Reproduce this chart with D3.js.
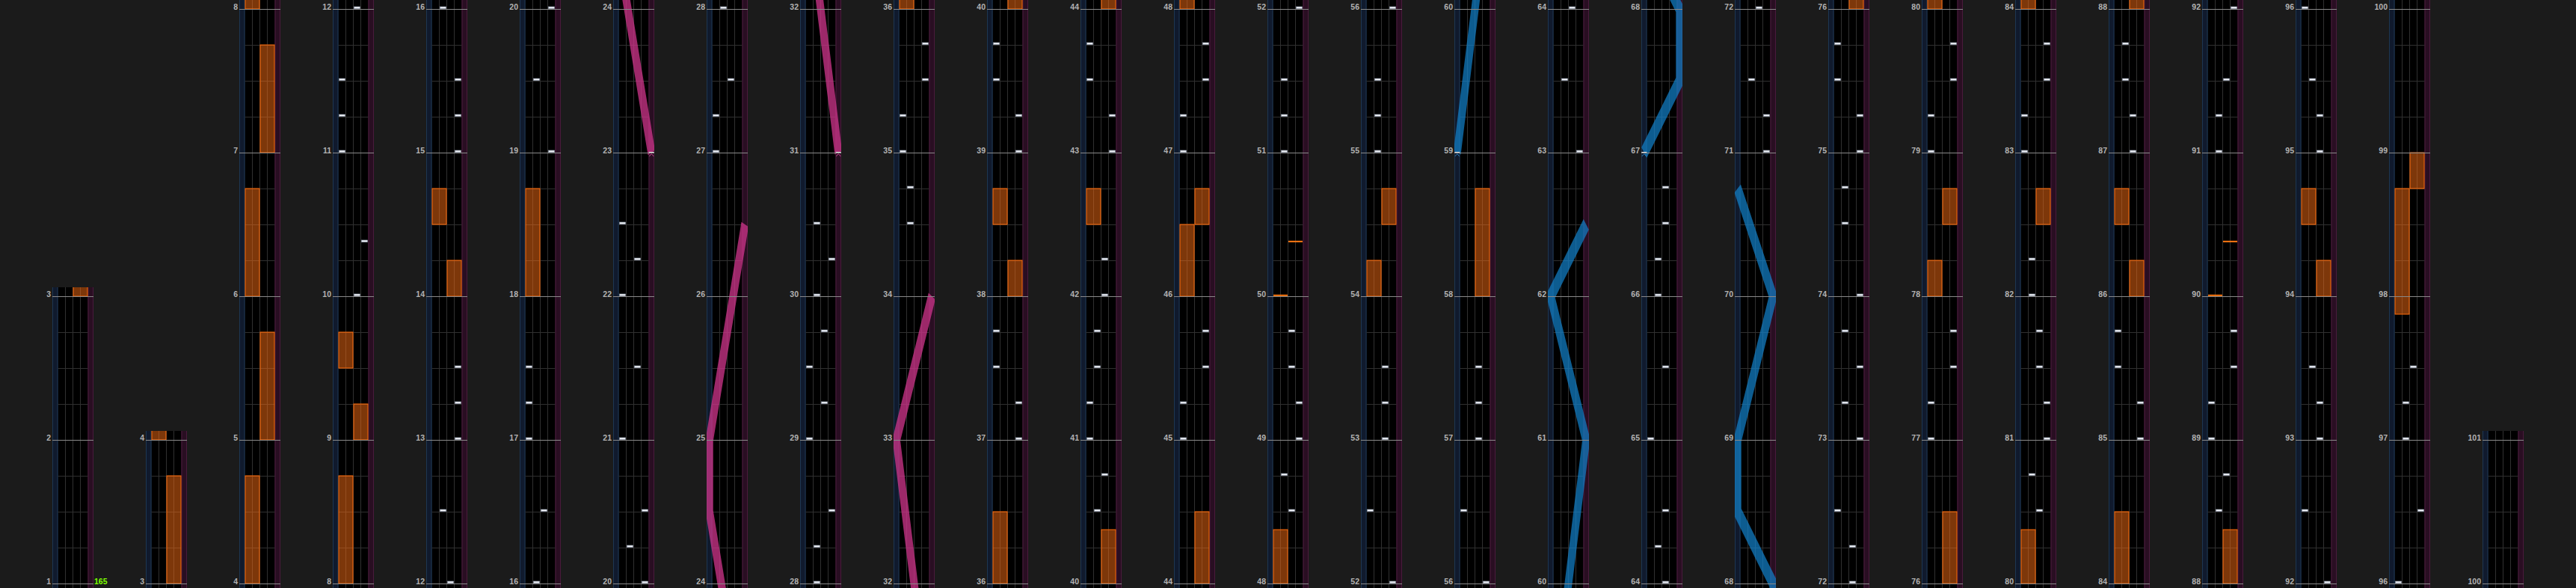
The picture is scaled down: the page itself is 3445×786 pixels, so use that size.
<!DOCTYPE html>
<html><head><meta charset="utf-8">
<script src="https://cdn.jsdelivr.net/npm/d3@7"></script>
<style>html,body{margin:0;padding:0;background:#1b1b1b;overflow:hidden}</style>
</head><body>
<svg id="chart" width="3445" height="786"></svg>
<script>
// ---------------- DATA ----------------
const bpmLabel = "165";
const columnFirstMeasures = [1,3,4,8,12,16,20,24,28,32,36,40,44,48,52,56,60,64,68,72,76,80,84,88,92,96,100];
const columnMeasureCounts = [2,1,4,4,4,4,4,4,4,4,4,4,4,4,4,4,4,4,4,4,4,4,4,4,4,4,1];

// BT chips: [measure, beat, lane 1-4]
const btChips = [
  [10,0,3],[10,1.5,4],
  [11,0,1],[11,1,1],[11,2,1],
  [12,0,3],[12,2,2],
  [13,0,4],[13,1,4],[13,2,4],
  [15,0,4],[15,1,4],[15,2,4],
  [16,0,2],[16,2,3],
  [17,0,1],[17,1,1],[17,2,1],
  [19,0,4],[19,2,2],
  [20,0,4],[20,1,2],[20,2,4],
  [21,0,1],[21,2,3],
  [22,0,1],[22,1,3],[22,2,1],
  [27,0,1],[27,1,1],[27,2,3],
  [28,0,2],[28,1,2],[28,2,4],
  [29,0,1],[29,1,3],[29,2,1],[29,3,3],
  [30,0,2],[30,1,4],[30,2,2],
  [34,2,2],[34,3,2],
  [35,0,1],[35,1,1],[35,2,4],[35,3,4],
  [37,0,4],[37,1,4],[37,2,1],[37,3,1],
  [39,0,4],[39,1,4],[39,2,1],[39,3,1],
  [40,2,2],[40,3,3],
  [41,0,1],[41,1,1],[41,2,2],[41,3,2],
  [42,0,3],[42,1,3],
  [43,0,4],[43,1,4],[43,2,1],[43,3,1],
  [45,0,1],[45,1,1],[45,2,4],[45,3,4],
  [47,0,1],[47,1,1],[47,2,4],[47,3,4],
  [48,2,3],[48,3,2],
  [49,0,4],[49,1,4],[49,2,3],[49,3,3],
  [51,0,2],[51,1,2],[51,2,2],
  [52,0,4],[52,2,1],
  [53,0,3],[53,1,3],[53,2,3],
  [55,0,2],[55,1,2],[55,2,2],
  [56,0,4],[56,2,1],
  [57,0,3],[57,1,3],[57,2,3],
  [63,0,4],[63,2,2],
  [64,0,3],[64,1,2],[64,2,3],
  [65,0,1],[65,2,3],
  [66,0,2],[66,1,2],[66,2,3],[66,3,3],
  [71,0,4],[71,1,4],[71,2,2],
  [72,0,3],[72,1,3],[72,2,1],
  [73,0,4],[73,1,2],[73,2,4],[73,3,2],
  [74,0,4],[74,2,2],[74,3,2],
  [75,0,4],[75,1,4],[75,2,1],[75,3,1],
  [77,0,1],[77,1,1],[77,2,4],[77,3,4],
  [79,0,1],[79,1,1],[79,2,4],[79,3,4],
  [80,2,3],[80,3,2],
  [81,0,4],[81,1,4],[81,2,3],[81,3,3],
  [82,0,2],[82,1,2],
  [83,0,1],[83,1,1],[83,2,4],[83,3,4],
  [85,0,4],[85,1,4],[85,2,1],[85,3,1],
  [87,0,3],[87,1,3],[87,2,2],[87,3,2],
  [88,2,2],[88,3,3],
  [89,0,1],[89,1,1],[89,2,4],[89,3,4],
  [91,0,2],[91,1,2],[91,2,3],
  [92,0,4],[92,2,1],
  [93,0,3],[93,1,3],[93,2,2],
  [95,0,3],[95,1,3],[95,2,2],
  [96,0,1],[96,2,4],
  [97,0,2],[97,1,2],[97,2,3]
];

// FX holds: [startMeasure, startBeat, endMeasure, endBeat, side]
const fxHolds = [
  [3,0,3,3,"R"],[4,0,4,3,"L"],[5,0,5,3,"R"],[6,0,6,3,"L"],[7,0,7,3,"R"],[8,0,8,3,"L"],
  [9,0,9,1,"R"],[9,2,9,3,"L"],
  [14,0,14,1,"R"],[14,2,14,3,"L"],
  [18,0,18,3,"L"],
  [36,0,36,2,"L"],
  [38,0,38,1,"R"],[38,2,38,3,"L"],
  [40,0,40,1.5,"R"],
  [42,2,42,3,"L"],
  [44,0,44,2,"R"],
  [46,0,46,2,"L"],[46,2,46,3,"R"],
  [48,0,48,1.5,"L"],
  [54,0,54,1,"L"],[54,2,54,3,"R"],
  [58,0,58,3,"R"],
  [76,0,76,2,"R"],
  [78,0,78,1,"L"],[78,2,78,3,"R"],
  [80,0,80,1.5,"L"],
  [82,2,82,3,"R"],
  [84,0,84,2,"L"],
  [86,0,86,1,"R"],[86,2,86,3,"L"],
  [88,0,88,1.5,"R"],
  [94,0,94,1,"R"],[94,2,94,3,"L"],
  [97,3.5,98,3,"L"],[98,3,99,0,"R"]
];

// FX chips: [measure, beat, side]
const fxChips = [[50,0,"L"],[50,1.5,"R"],[90,0,"L"],[90,1.5,"R"]];

// Lasers: points [measure, beat, position 0..1]
const lasersLeft = [
  [[59,0,0],[61,0,1],[62,0,0],[62,2,1]],
  [[67,0,0],[67,2,1],[68,0,1],[68,2,0],[69,0,0],[70,0,1],[70,3,0]]
];
const lasersRight = [
  [[23,0,1],[24,2,0],[25,0,0],[26,2,1]],
  [[31,0,1],[33,0,0],[34,0,1]]
];

// ---------------- RENDER ----------------
const svg = d3.select("#chart");
svg.append("rect").attr("width",3445).attr("height",786).attr("fill","#1b1b1b");
const defs = svg.append("defs");

const beatOf = (m,b) => (m-1)*4 + b;
const colX = d3.scaleLinear().domain([0, columnFirstMeasures.length-1]).range([70, 3320]);
const laneX = d3.scaleBand().domain([1,2,3,4]).range([7.5, 47.5]);
const fxX = d3.scaleBand().domain(["L","R"]).range([7.5, 47.5]);
const laserX = d3.scaleLinear().domain([0,1]).range([3.75, 51.25]);
const COLW = 55, BASE = 780, MH = 192, H = 786;

const laserSets = [
  {lasers: lasersLeft, color: "rgba(18,128,200,0.72)", mark: "#2c7fbf"},
  {lasers: lasersRight, color: "rgba(205,52,138,0.76)", mark: "#c2478f"}
];

columnFirstMeasures.forEach((first, i) => {
  const count = columnMeasureCounts[i];
  const t0 = beatOf(first, 0), t1 = t0 + count*4;
  const y = d3.scaleLinear().domain([t0, t1]).range([BASE, BASE - MH*count]);
  const top = y(t1) - 12;
  const x0 = colX(i);
  const clipId = "clip" + i;
  defs.append("clipPath").attr("id", clipId)
    .append("rect").attr("x",0).attr("y",top).attr("width",COLW).attr("height",H-top);

  const g = svg.append("g").attr("transform", `translate(${x0},0)`);
  const body = g.append("g").attr("clip-path", `url(#${clipId})`);

  // lane backgrounds
  body.append("rect").attr("x",7.5).attr("y",top).attr("width",40).attr("height",H-top).attr("fill","#000");
  body.append("rect").attr("x",0).attr("y",top).attr("width",7.5).attr("height",H-top).attr("fill","#101a2d");
  body.append("rect").attr("x",47.5).attr("y",top).attr("width",7.5).attr("height",H-top).attr("fill","#290e22");
  [0.5, 7].forEach(xx => body.append("line").attr("x1",xx).attr("x2",xx).attr("y1",top).attr("y2",H)
      .attr("stroke","#1d3652").attr("stroke-width",1));
  [48, 54.5].forEach(xx => body.append("line").attr("x1",xx).attr("x2",xx).attr("y1",top).attr("y2",H)
      .attr("stroke","#4a1a3c").attr("stroke-width",1));

  // beat grid
  const beats = d3.range(Math.floor(y.invert(H)), Math.ceil(y.invert(top)) + 1);
  body.selectAll("line.beat").data(beats.filter(b => b % 4 !== 0)).join("line")
    .attr("class","beat").attr("x1",7.5).attr("x2",47.5)
    .attr("y1", d => Math.round(y(d)) + 0.5).attr("y2", d => Math.round(y(d)) + 0.5)
    .attr("stroke","#303030").attr("stroke-width",1);
  // lane dividers
  [2,3,4].forEach(l => body.append("line").attr("x1",laneX(l)).attr("x2",laneX(l))
      .attr("y1",top).attr("y2",H).attr("stroke","#303030").attr("stroke-width",1));

  // FX holds
  const holds = fxHolds.filter(d => beatOf(d[2],d[3]) > y.invert(H) && beatOf(d[0],d[1]) < y.invert(top));
  body.selectAll("rect.fx").data(holds).join("rect").attr("class","fx")
    .attr("x", d => fxX(d[4]) + 0.5)
    .attr("width", fxX.bandwidth() - 1)
    .attr("y", d => y(beatOf(d[2],d[3])))
    .attr("height", d => y(beatOf(d[0],d[1])) - y(beatOf(d[2],d[3])))
    .attr("fill","rgba(240,105,20,0.52)")
    .attr("stroke","#ff6c0a").attr("stroke-width",1);

  // lasers
  laserSets.forEach(set => {
    set.lasers.forEach(pts => {
      const lg = body.append("g").attr("transform","scale(1,2)");
      lg.append("path")
        .attr("d", d3.line().x(p => laserX(p[2])).y(p => y(beatOf(p[0],p[1]))/2)(pts))
        .attr("fill","none").attr("stroke",set.color).attr("stroke-width",10)
        .attr("stroke-linejoin","miter").attr("stroke-linecap","butt");
    });
  });

  // measure lines
  const mlines = d3.range(first, first + count + 1);
  body.selectAll("line.meas").data(mlines).join("line").attr("class","meas")
    .attr("x1",0).attr("x2",COLW)
    .attr("y1", m => y(beatOf(m,0)) + 0.5).attr("y2", m => y(beatOf(m,0)) + 0.5)
    .attr("stroke","#8a8a8a").attr("stroke-width",1);

  // laser start markers
  laserSets.forEach(set => {
    set.lasers.forEach(pts => {
      const p = pts[0];
      const cx = laserX(p[2]), cy = y(beatOf(p[0],p[1]));
      body.append("line").attr("x1",cx-3.5).attr("x2",cx+3.5).attr("y1",cy-0.5).attr("y2",cy-0.5)
        .attr("stroke","#e8e8e8").attr("stroke-width",1);
      body.append("path").attr("d",`M${cx-3},${cy+5}L${cx},${cy+1.5}L${cx+3},${cy+5}`)
        .attr("fill","none").attr("stroke",set.mark).attr("stroke-width",1);
    });
  });

  // BT chips
  const chips = btChips.filter(d => { const t = beatOf(d[0],d[1]); return t >= y.invert(H) && t <= y.invert(top); });
  body.selectAll("rect.bt").data(chips).join("rect").attr("class","bt")
    .attr("x", d => laneX(d[2]) + 1)
    .attr("width", laneX.bandwidth() - 2)
    .attr("y", d => y(beatOf(d[0],d[1])) - 3)
    .attr("height", 2.6)
    .attr("fill","#f2f4f8").attr("stroke","#8f98aa").attr("stroke-width",0.7);

  // FX chips
  const fchips = fxChips.filter(d => { const t = beatOf(d[0],d[1]); return t >= y.invert(H) && t <= y.invert(top); });
  body.selectAll("rect.fxc").data(fchips).join("rect").attr("class","fxc")
    .attr("x", d => fxX(d[2]) + 0.5)
    .attr("width", fxX.bandwidth() - 1)
    .attr("y", d => y(beatOf(d[0],d[1])) - 2.2)
    .attr("height", 2)
    .attr("fill","#ff7a12");

  // measure labels
  g.selectAll("text.ml").data(mlines).join("text").attr("class","ml")
    .attr("x", -2).attr("y", m => y(beatOf(m,0)) + 0.5)
    .attr("text-anchor","end")
    .attr("font-family","'Liberation Sans', Arial, sans-serif")
    .attr("font-weight","bold").attr("font-size","10.5px")
    .attr("fill","#b2b2b2")
    .text(m => m);

  if (i === 0) {
    g.append("text").attr("x", 56).attr("y", y(beatOf(1,0)) + 1)
      .attr("font-family","'Liberation Sans', Arial, sans-serif")
      .attr("font-weight","bold").attr("font-size","10.5px")
      .attr("fill","#7dff00").text(bpmLabel);
  }
});
</script>
</body></html>
